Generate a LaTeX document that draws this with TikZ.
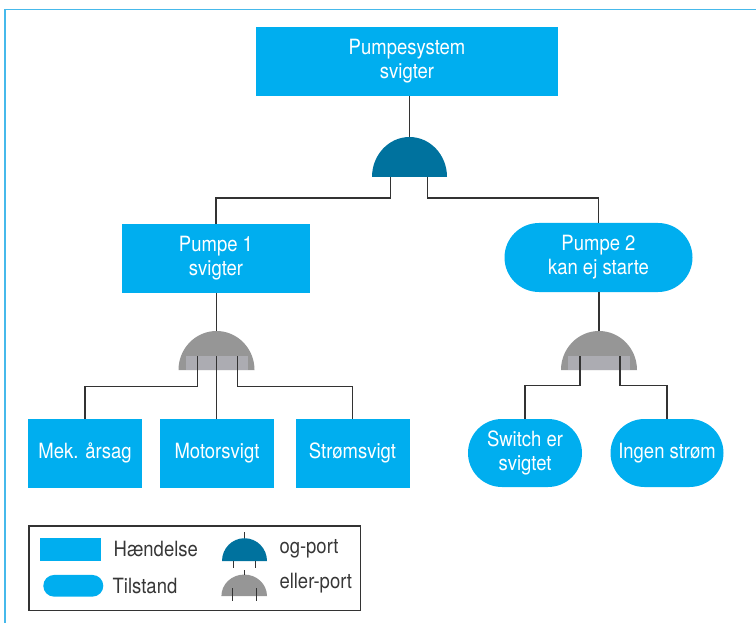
\documentclass[tikz,border=0pt]{standalone}
\usepackage{fontspec}
\setmainfont[FakeStretch=0.88]{TeX Gyre Heros}
\usetikzlibrary{shapes.misc}

\definecolor{evfill}{RGB}{0,174,239}
\definecolor{andcol}{RGB}{0,114,158}
\definecolor{orcol}{RGB}{150,150,150}
\definecolor{orband}{RGB}{172,172,178}
\definecolor{wire}{RGB}{51,51,51}
\definecolor{framecol}{RGB}{70,185,235}
\definecolor{legtext}{RGB}{55,55,55}

\tikzset{
  lbl/.style={font=\fontsize{21}{24}\selectfont, align=center, text=white, inner sep=0pt},
  event/.style={lbl, rectangle, fill=evfill},
  state/.style={lbl, rounded rectangle, fill=evfill},
  wirestyle/.style={draw=wire, line width=1.3pt},
  legendtxt/.style={font=\fontsize{21}{24}\selectfont, text=legtext, inner sep=0pt, anchor=west},
  pics/andgate/.style={code={
    \fill[andcol] (-37.5,0) arc[start angle=180, end angle=360, x radius=37.5, y radius=40] -- cycle;
    \coordinate (-top) at (0,-40);
    \coordinate (-l) at (-19,0);
    \coordinate (-r) at (18,0);
  }},
  pics/orgate/.style={code={
    \fill[orcol] (-38,0) arc[start angle=180, end angle=360, x radius=38, y radius=39] -- cycle;
    \fill[#1] (-31,-14) rectangle (31,0);
    \coordinate (-top) at (0,-39);
    \coordinate (-l) at (-19,-14);
    \coordinate (-m) at (0,-14);
    \coordinate (-r) at (21,-14);
  }},
}

\begin{document}
\begin{tikzpicture}[x=1pt, y=-1pt]
  \useasboundingbox (0,0) rectangle (756,623);

  % outer frame (top and left edges)
  \draw[framecol, line width=1.4pt] (4.8,623) -- (4.8,9.6) -- (756,9.6);

  % events and states
  \node[event, minimum width=302pt, minimum height=69pt] (top) at (407,61.5) {Pumpesystem\\svigter};
  \node[event, minimum width=188pt, minimum height=69pt] (p1) at (216,258.5) {Pumpe 1\\svigter};
  \node[state, minimum width=188pt, minimum height=69pt] (p2) at (598.5,257.5) {Pumpe 2\\kan ej starte};
  \node[event, minimum width=114pt, minimum height=68.5pt] (mek) at (85,453.3) {Mek. årsag};
  \node[event, minimum width=114pt, minimum height=68.5pt] (motor) at (217,453.3) {Motorsvigt};
  \node[event, minimum width=114pt, minimum height=68.5pt] (strom) at (352.5,453.3) {Strømsvigt};
  \node[state, minimum width=114pt, minimum height=68pt] (switch) at (525,453) {Switch er\\svigtet};
  \node[state, minimum width=113pt, minimum height=68pt] (ingen) at (667,453) {Ingen strøm};

  % gates
  \pic (ga) at (409.5,177) {andgate};
  \pic (go1) at (216.5,370) {orgate=orband};
  \pic (go2) at (599,370) {orgate=orband};

  % connectors
  \draw[wirestyle] (ga-top) -- (ga-top |- top.south);
  \draw[wirestyle] (ga-l) -- ++(0,21) -| (p1.north);
  \draw[wirestyle] (ga-r) -- ++(0,21) -| (p2.north);

  \draw[wirestyle] (go1-top) -- (go1-top |- p1.south);
  \draw[wirestyle] (go1-l) -- ++(0,30.5) -| (mek.north);
  \draw[wirestyle] (go1-m) -- (go1-m |- motor.north);
  \draw[wirestyle] (go1-r) -- ++(0,30.5) -| (strom.north);

  \draw[wirestyle] (go2-top) -- (go2-top |- p2.south);
  \draw[wirestyle] (go2-l) -- ++(0,29.5) -| (switch.north);
  \draw[wirestyle] (go2-r) -- ++(0,29.5) -| (ingen.north);

  % legend
  \draw[wire, line width=1.1pt] (29,526) rectangle (360.7,610.7);
  \node[event, minimum width=61pt, minimum height=22.4pt] (lgev) at (70.5,549.5) {};
  \node[state, minimum width=60pt, minimum height=21.7pt] (lgst) at (73.3,585.8) {};
  \node[legendtxt] (lgevtxt) at (113.5,549) {Hændelse};
  \node[legendtxt] (lgsttxt) at (112.5,586) {Tilstand};

  \pic[xscale=0.6, yscale=0.57] (lga) at (244.5,561) {andgate};
  \draw[wirestyle, line width=1.1pt] (lga-top) -- ++(0,-6);
  \draw[wirestyle, line width=1.1pt] (lga-l) -- ++(0,6.5);
  \draw[wirestyle, line width=1.1pt] (lga-r) -- ++(0,6.5);

  \pic[xscale=0.6, yscale=0.55] (lgo) at (244.2,596) {orgate=orcol};
  \draw[wirestyle, line width=1.1pt] (lgo-top) -- ++(0,-5);
  \draw[wirestyle, line width=1.1pt] (lgo-l) -- ++(0,12.5);
  \draw[wirestyle, line width=1.1pt] (lgo-r) -- ++(0,12.5);

  \node[legendtxt] (lgatxt) at (279.3,549) {og-port};
  \node[legendtxt] (lgotxt) at (279.3,583) {eller-port};
\end{tikzpicture}
\end{document}
